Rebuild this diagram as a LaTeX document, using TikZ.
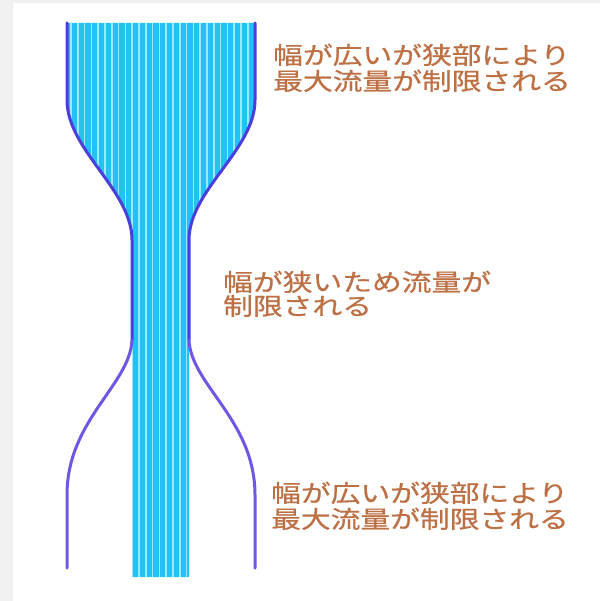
\documentclass[tikz,border=0pt]{standalone}
\usepackage{fontspec}
\newfontfamily\jp[FakeStretch=1.24, FakeBold=0.6]{Noto Sans CJK JP}
\definecolor{bgray}{HTML}{F1F1F1}
\definecolor{flow}{HTML}{22C2F4}
\definecolor{stripe}{HTML}{9BE9FF}
\definecolor{wall}{HTML}{4A3EDC}
\definecolor{wall2}{HTML}{6C58E2}
\definecolor{note}{HTML}{BE7045}
\tikzset{
  wallline/.style={draw=wall, line width=3pt, line cap=round},
  notetext/.style={anchor=base west, inner sep=0pt, align=left, text=note,
    font=\jp\fontsize{24}{25}\selectfont},
}
\begin{document}
\begin{tikzpicture}[x=1pt,y=-1pt]
\useasboundingbox (0,0) rectangle (600,601);
\fill[bgray] (0,0) rectangle (600,601);
\fill[white] (13,3) rectangle (600,601);
% flow region
\def\flowpath{(67,23) -- (67,100) .. controls (67,150) and (132,190) .. (132,240)
  -- (132,577) -- (189,577) -- (189,240) .. controls (189,190) and (255,150) .. (255,100)
  -- (255,23) -- cycle}
\fill[flow] \flowpath;
\begin{scope}
  \clip \flowpath;
  \foreach \x in {0,...,27} {
    \draw[stripe, line width=1.6pt] (71+\x*6.8,20) -- (71+\x*6.8,580);
  }
\end{scope}
% walls
\draw[wallline] (67,23) -- (67,100) .. controls (67,150) and (132,190) .. (132,240)
  -- (132,340);
\draw[wallline, draw=wall2] (132,340) .. controls (130,385) and (67,420) .. (67,495) -- (67,568);
\draw[wallline] (255,23) -- (255,100) .. controls (255,150) and (189,190) .. (189,240)
  -- (189,340);
\draw[wallline, draw=wall2] (189,340) .. controls (191,385) and (255,420) .. (255,495) -- (255,568);
% notes
\node[notetext] (top) at (273,90) {幅が広いが狭部により\\[1pt]最大流量が制限される};
\node[notetext] (mid) at (223,315) {幅が狭いため流量が\\[-1pt]制限される};
\node[notetext] (bot) at (271,528) {幅が広いが狭部により\\[1pt]最大流量が制限される};
\end{tikzpicture}
\end{document}
